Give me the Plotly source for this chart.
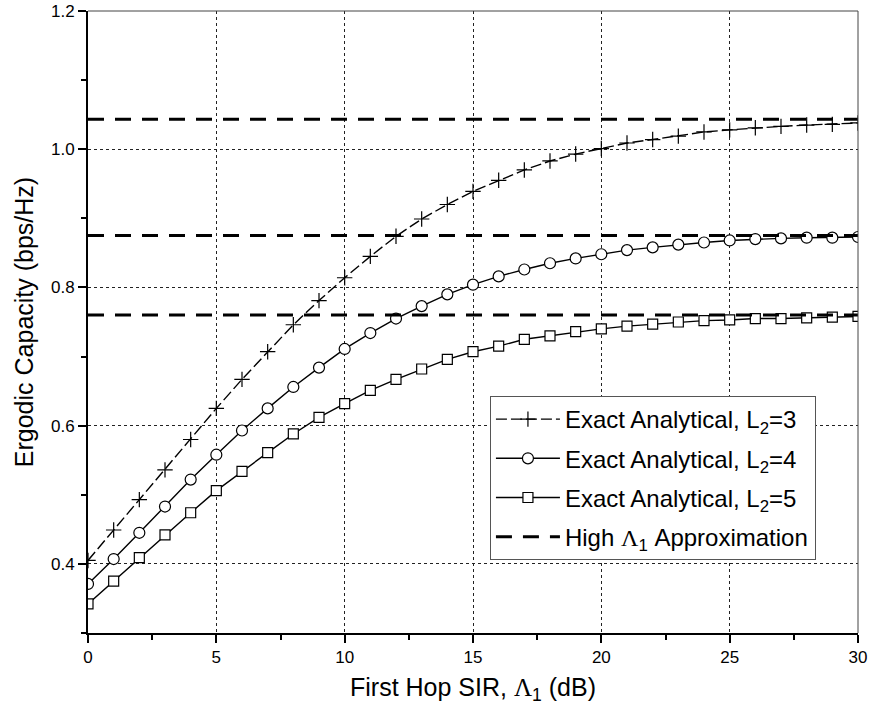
import plotly.graph_objects as go

x_db = list(range(0, 31))
cap_L3 = [0.405, 0.449, 0.493, 0.536, 0.580, 0.625, 0.667, 0.707, 0.746, 0.781, 0.814,
          0.845, 0.874, 0.899, 0.920, 0.939, 0.955, 0.970, 0.983, 0.993, 1.001,
          1.009, 1.014, 1.019, 1.025, 1.028, 1.031, 1.033, 1.035, 1.036, 1.038]
cap_L4 = [0.371, 0.407, 0.445, 0.483, 0.522, 0.558, 0.593, 0.625, 0.656, 0.684, 0.711,
          0.734, 0.755, 0.773, 0.790, 0.804, 0.816, 0.826, 0.835, 0.842, 0.848,
          0.854, 0.858, 0.862, 0.865, 0.868, 0.870, 0.871, 0.872, 0.872, 0.873]
cap_L5 = [0.342, 0.375, 0.409, 0.442, 0.474, 0.506, 0.534, 0.561, 0.588, 0.612, 0.632,
          0.651, 0.667, 0.682, 0.696, 0.707, 0.715, 0.725, 0.730, 0.736, 0.740,
          0.744, 0.747, 0.750, 0.752, 0.753, 0.755, 0.755, 0.756, 0.757, 0.758]
approx_x = [0, 30]
approx_levels = [1.0435, 0.875, 0.760]

x_ticks = [0, 5, 10, 15, 20, 25, 30]
y_ticks = [0.4, 0.6, 0.8, 1.0, 1.2]

FONT = "Liberation Sans, Arial, sans-serif"
LAM = '<span style="font-family:Liberation Serif, Times New Roman, serif">Λ</span>'

fig = go.Figure()

fig.add_trace(go.Scatter(
    x=x_db, y=cap_L3, mode="lines+markers",
    name="Exact Analytical, L<sub>2</sub>=3\u00a0\u00a0", legendgroup="a",
    line=dict(color="black", width=1.4, dash="11px,4px"),
    marker=dict(symbol="cross-thin", size=11, color="black",
                line=dict(color="black", width=1.2)),
))
fig.add_trace(go.Scatter(
    x=x_db, y=cap_L4, mode="lines+markers",
    name="Exact Analytical, L<sub>2</sub>=4", legendgroup="b",
    line=dict(color="black", width=1.4),
    marker=dict(symbol="circle", size=11, color="white",
                line=dict(color="black", width=1.2)),
))
fig.add_trace(go.Scatter(
    x=x_db, y=cap_L5, mode="lines+markers",
    name="Exact Analytical, L<sub>2</sub>=5", legendgroup="c",
    line=dict(color="black", width=1.4),
    marker=dict(symbol="square", size=10, color="white",
                line=dict(color="black", width=1.2)),
))
for i, lev in enumerate(approx_levels):
    fig.add_trace(go.Scatter(
        x=approx_x, y=[lev, lev], mode="lines",
        name="High " + LAM + "<sub>1</sub> Approximation", legendgroup="d",
        showlegend=(i == 0),
        line=dict(color="black", width=3, dash="16px,11px"),
    ))

axis_common = dict(
    showline=True, linecolor="black", linewidth=2,
    ticks="outside", ticklen=8, tickwidth=1.5, tickcolor="black",
    showgrid=True, gridcolor="#222", gridwidth=1, griddash="dot",
    zeroline=False, mirror=False,
    tickfont=dict(family=FONT, size=17, color="black"),
)

fig.update_xaxes(
    range=[0, 30], tickvals=x_ticks, ticktext=[str(v) for v in x_ticks],
    minor=dict(ticks="outside", ticklen=5, tickwidth=1.5, tickcolor="black",
               dtick=2.5, tick0=0, showgrid=False),
    title=dict(text="First Hop SIR, " + LAM + "<sub>1</sub> (dB)",
               font=dict(family=FONT, size=25, color="black"), standoff=12),
    **axis_common,
)
fig.update_yaxes(
    range=[0.3, 1.2], tickvals=y_ticks, ticktext=["0.4", "0.6", "0.8", "1.0", "1.2"],
    minor=dict(ticks="outside", ticklen=5, tickwidth=1.5, tickcolor="black",
               dtick=0.1, tick0=0.3, showgrid=False),
    title=dict(text="Ergodic Capacity (bps/Hz)",
               font=dict(family=FONT, size=25, color="black"), standoff=10),
    **axis_common,
)

fig.add_shape(type="line", xref="paper", yref="paper", x0=0, x1=1, y0=1, y1=1,
              line=dict(color="#444", width=1))
fig.add_shape(type="line", xref="paper", yref="paper", x0=1, x1=1, y0=0, y1=1,
              line=dict(color="#444", width=1))

fig.update_layout(
    width=869, height=709,
    margin=dict(l=88, r=11, t=11, b=76, autoexpand=False),
    plot_bgcolor="white", paper_bgcolor="white",
    font=dict(family=FONT, color="black"),
    legend=dict(
        x=0.522, y=0.381, xanchor="left", yanchor="top",
        bgcolor="white", bordercolor="#555", borderwidth=1,
        font=dict(family=FONT, size=24, color="black"),
        tracegroupgap=5, itemwidth=64,
    ),
)

fig.write_html("out.html")
